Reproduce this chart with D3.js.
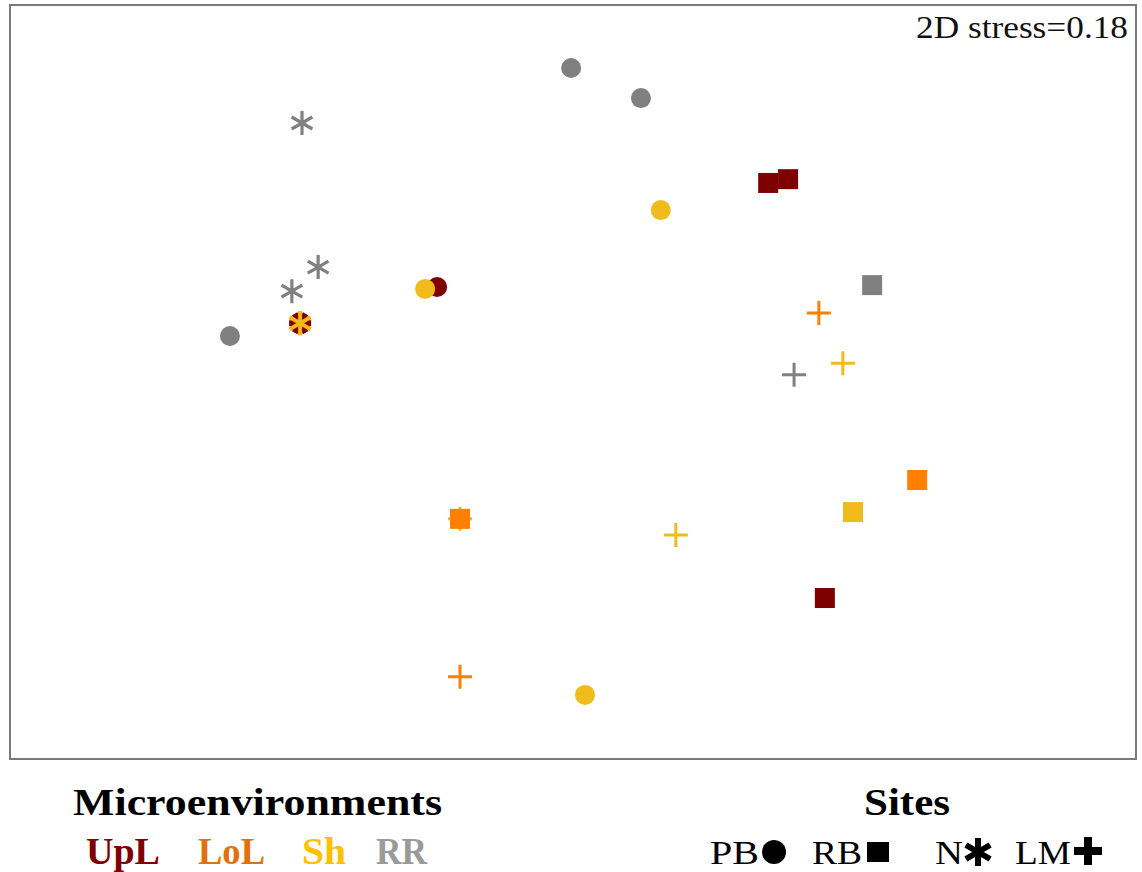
<!DOCTYPE html>
<html>
<head>
<meta charset="utf-8">
<script src="https://cdn.jsdelivr.net/npm/d3@7/dist/d3.min.js"></script>
<style>
  html, body { margin: 0; padding: 0; background: #fff; }
  svg { display: block; }
  text { font-family: "Liberation Serif", "DejaVu Serif", serif; }
</style>
</head>
<body>
<svg id="chart" width="1142" height="872"></svg>
<script>
// NMDS ordination scores (axis 1, axis 2) per sample
const groups   = ["UpL", "LoL", "Sh", "RR"];
const groupColors = ["#7f0000", "#ff7f00", "#f0bc1c", "#808080"];
const legendTextColors = ["#7f0000", "#e3700d", "#ffc000", "#9a9a9a"];
const sites    = ["PB", "RB", "N", "LM"];

// drawing order: later rows on top
const sampleGroup = ["RR","RR","RR","Sh","Sh","Sh","UpL",
                     "RR","RR","RR","UpL","LoL","Sh",
                     "Sh","UpL","UpL","UpL","RR","LoL","LoL","Sh",
                     "LoL","LoL","Sh","Sh","RR"];
const sampleSite  = ["PB","PB","PB","PB","PB","PB","PB",
                     "N","N","N","N","N","N",
                     "LM","RB","RB","RB","RB","RB","RB","RB",
                     "LM","LM","LM","LM","LM"];
const nmds1 = [-0.005, 0.181, -0.914, 0.234, -0.394, 0.032, -0.362,
               -0.722, -0.679, -0.749, -0.727, -0.727, -0.727,
               -0.301, 0.520, 0.573, 0.671, 0.797, 0.917, -0.301, 0.746,
               0.655, -0.301, 0.719, 0.274, 0.589];
const nmds2 = [0.833, 0.753, 0.122, 0.456, 0.247, -0.830, 0.252,
               0.687, 0.305, 0.241, 0.156, 0.156, 0.156,
               -0.363, 0.528, 0.538, -0.573, 0.257, -0.260, -0.363, -0.345,
               0.183, -0.782, 0.050, -0.406, 0.019];
// put the dark-red circle beneath the yellow one
const drawOrder = [0,1,2,6,3,4,5,7,8,9,10,11,12,13,14,15,16,17,18,19,20,21,22,23,24,25];

const stressLabel = "2D stress=0.18";

const svg = d3.select("#chart");
const frame = { x0: 10, y0: 5, x1: 1136, y1: 759 };

const x = d3.scaleLinear().domain([-1.5, 1.5]).range([frame.x0, frame.x1]);
const y = d3.scaleLinear().domain([-1, 1]).range([frame.y1, frame.y0]);
const color = d3.scaleOrdinal().domain(groups).range(groupColors);

// plot frame
svg.append("rect")
  .attr("x", frame.x0).attr("y", frame.y0)
  .attr("width", frame.x1 - frame.x0).attr("height", frame.y1 - frame.y0)
  .attr("fill", "none").attr("stroke", "#7a7a7a").attr("stroke-width", 2);

svg.append("text")
  .attr("x", 916).attr("y", 38)
  .attr("font-size", 31)
  .attr("textLength", 212).attr("lengthAdjust", "spacingAndGlyphs")
  .attr("fill", "#111")
  .text(stressLabel);

// marker path builders (centered at origin)
function asteriskPath(r, rot) {
  let p = "";
  [90, 30, 150].forEach(a => {
    const t = (a + (rot || 0)) * Math.PI / 180;
    const dx = r * Math.cos(t), dy = r * Math.sin(t);
    p += `M${-dx},${-dy}L${dx},${dy}`;
  });
  return p;
}
function plusPath(r) {
  return `M${-r},0L${r},0M0,${-r}L0,${r}`;
}

const pts = svg.append("g").attr("class", "points");
drawOrder.forEach(i => {
  const g = pts.append("g")
    .attr("transform", `translate(${x(nmds1[i])},${y(nmds2[i])})`);
  const grp = sampleGroup[i];
  const c = color(grp);
  const s = sampleSite[i];
  if (s === "PB") {
    g.append("circle").attr("r", 10).attr("fill", c);
  } else if (s === "RB") {
    g.append("rect").attr("x", -10).attr("y", -10)
      .attr("width", 20).attr("height", 20).attr("fill", c);
  } else if (s === "N") {
    const under = grp === "UpL";
    g.append("path").attr("d", asteriskPath(under ? 11 : 12, under ? 30 : 0))
      .attr("stroke", c).attr("stroke-width", under ? 6 : (grp === "LoL" ? 4 : 3.2))
      .attr("fill", "none");
  } else {
    g.append("path").attr("d", plusPath(12))
      .attr("stroke", c).attr("stroke-width", 3)
      .attr("fill", "none");
  }
});

// legend: microenvironments
svg.append("text")
  .attr("x", 73).attr("y", 815)
  .attr("font-size", 38).attr("font-weight", "bold")
  .attr("textLength", 369).attr("lengthAdjust", "spacingAndGlyphs")
  .attr("fill", "#000")
  .text("Microenvironments");

const groupX = [86, 198, 302, 376];
const groupW = [74, 67, 44, 51];
groups.forEach((gname, i) => {
  svg.append("text")
    .attr("x", groupX[i]).attr("y", 864)
    .attr("font-size", 37).attr("font-weight", "bold")
    .attr("textLength", groupW[i]).attr("lengthAdjust", "spacingAndGlyphs")
    .attr("fill", legendTextColors[i])
    .text(gname);
});

// legend: sites
svg.append("text")
  .attr("x", 864).attr("y", 815)
  .attr("font-size", 38).attr("font-weight", "bold")
  .attr("textLength", 86).attr("lengthAdjust", "spacingAndGlyphs")
  .attr("fill", "#000")
  .text("Sites");

const siteX = [710, 812, 935, 1015];
const siteW = [49, 50, 28, 56];
sites.forEach((sname, i) => {
  svg.append("text")
    .attr("x", siteX[i]).attr("y", 864)
    .attr("font-size", 34)
    .attr("textLength", siteW[i]).attr("lengthAdjust", "spacingAndGlyphs")
    .attr("fill", "#000")
    .text(sname);
});

// legend symbols
const sym = svg.append("g").attr("fill", "#000");
sym.append("circle").attr("cx", 774).attr("cy", 852).attr("r", 12);
sym.append("rect").attr("x", 867).attr("y", 842).attr("width", 22).attr("height", 20);
sym.append("path").attr("transform", "translate(978,852)")
  .attr("d", asteriskPath(14)).attr("stroke", "#000").attr("stroke-width", 6)
  .attr("fill", "none");
sym.append("path").attr("transform", "translate(1088,851)")
  .attr("d", plusPath(14)).attr("stroke", "#000").attr("stroke-width", 8)
  .attr("fill", "none");
</script>
</body>
</html>
